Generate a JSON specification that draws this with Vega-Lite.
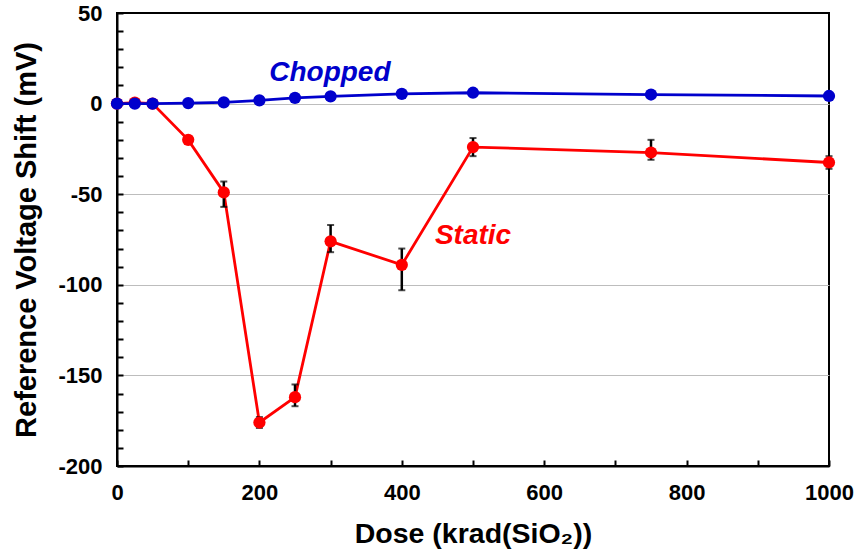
{
  "$schema": "https://vega.github.io/schema/vega-lite/v6.json",
  "width": 712,
  "height": 453,
  "autosize": "none",
  "padding": {"left": 117, "top": 13, "right": 28, "bottom": 86},
  "background": "white",
  "config": {
    "font": "Liberation Sans",
    "view": {"stroke": "black", "strokeWidth": 2},
    "axis": {
      "domainColor": "black",
      "domainWidth": 2,
      "tickColor": "black",
      "tickWidth": 2,
      "tickSize": -6,
      "labelFlush": false,
      "labelFont": "Liberation Sans",
      "labelFontWeight": "bold",
      "labelFontSize": 22,
      "labelColor": "black",
      "titleFont": "Liberation Sans",
      "titleFontWeight": "bold",
      "titleColor": "black"
    }
  },
  "datasets": {
    "static": [
      {"dose": 0, "shift": 0},
      {"dose": 25, "shift": 0.5},
      {"dose": 50, "shift": 0},
      {"dose": 100, "shift": -20, "lo": -22, "hi": -18},
      {"dose": 150, "shift": -49, "lo": -57, "hi": -43},
      {"dose": 200, "shift": -176, "lo": -179, "hi": -173},
      {"dose": 250, "shift": -162, "lo": -167, "hi": -155},
      {"dose": 300, "shift": -76, "lo": -82, "hi": -67},
      {"dose": 400, "shift": -89, "lo": -103, "hi": -80},
      {"dose": 500, "shift": -24, "lo": -29, "hi": -19},
      {"dose": 750, "shift": -27, "lo": -31, "hi": -20},
      {"dose": 1000, "shift": -32.5, "lo": -36, "hi": -29}
    ],
    "chopped": [
      {"dose": 0, "shift": 0},
      {"dose": 25, "shift": 0},
      {"dose": 50, "shift": 0},
      {"dose": 100, "shift": 0.3},
      {"dose": 150, "shift": 0.7},
      {"dose": 200, "shift": 1.8},
      {"dose": 250, "shift": 3.2},
      {"dose": 300, "shift": 4},
      {"dose": 400, "shift": 5.4},
      {"dose": 500, "shift": 6},
      {"dose": 750, "shift": 5},
      {"dose": 1000, "shift": 4.2}
    ],
    "labels": [
      {"label": "Chopped", "dose": 299, "shift": 17, "series": "Chopped"},
      {"label": "Static", "dose": 500, "shift": -73, "series": "Static"}
    ]
  },
  "encoding": {
    "x": {
      "field": "dose",
      "type": "quantitative",
      "scale": {"domain": [0, 1000], "nice": false},
      "axis": {
        "title": "Dose (krad(SiO₂))",
        "titleFontSize": 28.5,
        "titlePadding": 16,
        "values": [0, 100, 200, 300, 400, 500, 600, 700, 800, 900, 1000],
        "labelExpr": "datum.value % 200 === 0 ? '' + datum.value : ''",
        "labelPadding": 22,
        "grid": false
      }
    },
    "y": {
      "field": "shift",
      "type": "quantitative",
      "scale": {"domain": [-200, 50], "nice": false},
      "axis": {
        "title": "Reference Voltage Shift (mV)",
        "titleFontSize": 29,
        "titlePadding": 16,
        "values": [-200, -190, -180, -170, -160, -150, -140, -130, -120, -110, -100, -90, -80, -70, -60, -50, -40, -30, -20, -10, 0, 10, 20, 30, 40, 50],
        "labelExpr": "datum.value % 50 === 0 ? '' + datum.value : ''",
        "labelPadding": 21,
        "grid": true,
        "gridColor": "#bdbdbd",
        "gridWidth": 1,
        "gridOpacity": {"condition": {"test": "datum.value % 50 === 0 && datum.value > -200 && datum.value < 50", "value": 1}, "value": 0}
      }
    }
  },
  "layer": [
    {
      "data": {"name": "static"},
      "mark": {"type": "line", "color": "#ff0000", "strokeWidth": 2.8}
    },
    {
      "data": {"name": "static"},
      "transform": [{"filter": "isValid(datum.lo)"}],
      "mark": {"type": "rule", "color": "black", "strokeWidth": 2.5},
      "encoding": {"y": {"field": "lo", "type": "quantitative"}, "y2": {"field": "hi"}}
    },
    {
      "data": {"name": "static"},
      "transform": [{"filter": "isValid(datum.lo)"}],
      "mark": {"type": "tick", "orient": "horizontal", "color": "black", "size": 7, "thickness": 2},
      "encoding": {"y": {"field": "lo", "type": "quantitative"}}
    },
    {
      "data": {"name": "static"},
      "transform": [{"filter": "isValid(datum.hi)"}],
      "mark": {"type": "tick", "orient": "horizontal", "color": "black", "size": 7, "thickness": 2},
      "encoding": {"y": {"field": "hi", "type": "quantitative"}}
    },
    {
      "data": {"name": "static"},
      "mark": {"type": "point", "filled": true, "color": "#ff0000", "size": 150, "opacity": 1}
    },
    {
      "data": {"name": "chopped"},
      "mark": {"type": "line", "color": "#0000cc", "strokeWidth": 2.8}
    },
    {
      "data": {"name": "chopped"},
      "mark": {"type": "point", "filled": true, "color": "#0000cc", "size": 150, "opacity": 1}
    },
    {
      "data": {"name": "labels"},
      "mark": {"type": "text", "fontSize": 28, "fontWeight": "bold", "fontStyle": "italic", "font": "Liberation Sans"},
      "encoding": {
        "text": {"field": "label"},
        "color": {"field": "series", "type": "nominal", "scale": {"domain": ["Chopped", "Static"], "range": ["#0000cc", "#ff0000"]}, "legend": null}
      }
    }
  ]
}
